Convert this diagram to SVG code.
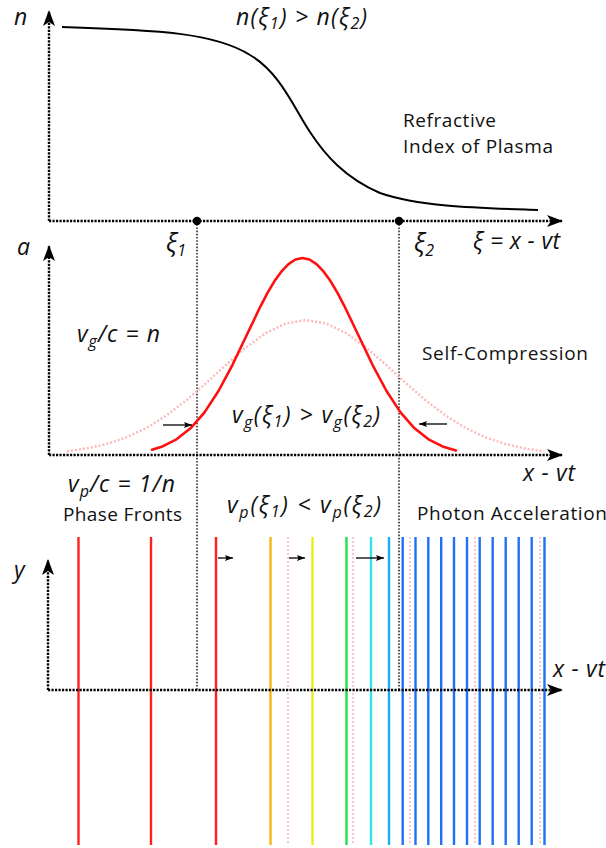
<svg xmlns="http://www.w3.org/2000/svg" width="606" height="848" viewBox="0 0 606 848">
<style>
.ax{stroke:#000;stroke-width:2.4;stroke-dasharray:2.2 1.3;fill:none}
.gd{stroke:#000;stroke-width:1.3;stroke-dasharray:1.6 1.6;fill:none}
.sa{stroke:#000;stroke-width:1.3;fill:none}
.t{font-family:"Open Sans","Noto Sans",sans-serif;font-size:19px;fill:#111}
.m{font-family:"Open Sans","Noto Sans",sans-serif;font-style:italic;font-size:23px;fill:#111}
.x{font-size:25px}
.s{font-size:16px}
.pf{stroke-width:2.4;fill:none}
.pk{stroke:#ffb8b8;stroke-width:1.6;stroke-dasharray:2 2;fill:none}
</style>
<defs>
<marker id="ah" viewBox="0 0 16 12" refX="15" refY="6" markerWidth="16" markerHeight="12" markerUnits="userSpaceOnUse" orient="auto"><path d="M0,0 L16,6 L0,12 L4,6 Z" fill="#000"/></marker>
<marker id="sh" viewBox="0 0 8 6" refX="8" refY="3" markerWidth="8" markerHeight="6" markerUnits="userSpaceOnUse" orient="auto"><path d="M0,0 L8,3 L0,6 L1.5,3 Z" fill="#000"/></marker>
</defs>
<rect width="606" height="848" fill="#fff"/>

<g id="phase-fronts">
<g class="pk">
<line x1="288" y1="537" x2="288" y2="845"/>
<line x1="353" y1="537" x2="353" y2="845"/>
<line x1="410" y1="537" x2="410" y2="845"/>
<line x1="475" y1="537" x2="475" y2="845"/>
<line x1="540" y1="537" x2="540" y2="845"/>
</g>
<g class="pf">
<line x1="78.5" y1="537" x2="78.5" y2="845" stroke="#ff1f1f"/>
<line x1="151" y1="537" x2="151" y2="845" stroke="#ff1f1f"/>
<line x1="216" y1="537" x2="216" y2="845" stroke="#ff1f1f"/>
<line x1="270.5" y1="537" x2="270.5" y2="845" stroke="#f6b80c"/>
<line x1="312.5" y1="537" x2="312.5" y2="845" stroke="#e4ef22"/>
<line x1="346.5" y1="537" x2="346.5" y2="845" stroke="#22e04a"/>
<line x1="371" y1="537" x2="371" y2="845" stroke="#33e2f0"/>
<line x1="389" y1="537" x2="389" y2="845" stroke="#18b0f5"/>
<g stroke="#1f70f2">
<line x1="402.7" y1="537" x2="402.7" y2="845"/>
<line x1="415.5" y1="537" x2="415.5" y2="845"/>
<line x1="428.3" y1="537" x2="428.3" y2="845"/>
<line x1="441.2" y1="537" x2="441.2" y2="845"/>
<line x1="454" y1="537" x2="454" y2="845"/>
<line x1="467" y1="537" x2="467" y2="845"/>
<line x1="479.7" y1="537" x2="479.7" y2="845"/>
<line x1="492.7" y1="537" x2="492.7" y2="845"/>
<line x1="505.7" y1="537" x2="505.7" y2="845"/>
<line x1="518.7" y1="537" x2="518.7" y2="845"/>
<line x1="531.7" y1="537" x2="531.7" y2="845"/>
<line x1="544.5" y1="537" x2="544.5" y2="845"/>
</g>
</g>
</g>

<g id="guides">
<line class="gd" x1="197" y1="221" x2="197" y2="690"/>
<line class="gd" x1="399" y1="221" x2="399" y2="690"/>
</g>

<g id="axes">
<path class="ax" d="M49,221 V11" marker-end="url(#ah)"/>
<path class="ax" d="M49,221 H562" marker-end="url(#ah)"/>
<path class="ax" d="M49,455 V246" marker-end="url(#ah)"/>
<path class="ax" d="M49,455 H562" marker-end="url(#ah)"/>
<path class="ax" d="M48,690 V560" marker-end="url(#ah)"/>
<path class="ax" d="M48,690 H562" marker-end="url(#ah)"/>
<circle cx="197" cy="221" r="4.2" fill="#000"/>
<circle cx="399" cy="221" r="4.2" fill="#000"/>
</g>

<g id="index-curve">
<path d="M62,27 C160,30 215,33 250,55 C280,72 295,110 310,132 C325,155 345,178 380,193 C420,207 480,208 538,210" fill="none" stroke="#000" stroke-width="2"/>
</g>

<g id="pulse">
<polyline points="67,451.2 86,448.6 106,444.2 126,437.5 146,428.2 166,415.8 186,400.6 206,383.2 226,364.9 246,347.4 266,333 286,323.4 306,320 326,323.4 346,333 366,347.4 386,364.9 406,383.2 426,400.6 446,415.8 466,428.2 486,437.5 506,444.2 526,448.6 544,451.2" fill="none" stroke="#ffb8b8" stroke-width="2.4" stroke-dasharray="2 2" stroke-linejoin="round"/>
<polyline points="152,449.7 162.5,446.4 176.5,439.3 190.5,428.3 204.5,412.4 218.5,391 232.5,364.8 246.5,335.5 260.5,306.3 267.5,292.9 274.5,281.1 281.5,271.4 288.5,264.1 295.5,259.5 302.5,258 309.5,259.5 316.5,264.1 323.5,271.4 330.5,281.1 337.5,292.9 344.5,306.3 358.5,335.5 372.5,364.8 386.5,391 400.5,412.4 414.5,428.3 428.5,439.3 442.5,446.4 456,450.4" fill="none" stroke="#ff1010" stroke-width="2.6" stroke-linejoin="round" stroke-linecap="round"/>
</g>

<g id="small-arrows">
<line class="sa" x1="163" y1="425" x2="192" y2="425" marker-end="url(#sh)"/>
<line class="sa" x1="447" y1="424" x2="419" y2="424" marker-end="url(#sh)"/>
<line class="sa" x1="218" y1="558" x2="233" y2="558" marker-end="url(#sh)"/>
<line class="sa" x1="289" y1="558" x2="305" y2="558" marker-end="url(#sh)"/>
<line class="sa" x1="356" y1="558" x2="384" y2="558" marker-end="url(#sh)"/>
</g>

<g id="labels">
<text class="m" x="14" y="25">n</text>
<text class="m" x="17" y="255">a</text>
<text class="m" x="14" y="578">y</text>
<text class="m" x="236" y="25" textLength="131">n(ξ<tspan class="s" dy="4">1</tspan><tspan dy="-4">) &gt; n(ξ</tspan><tspan class="s" dy="4">2</tspan><tspan dy="-4">)</tspan></text>
<text class="t" x="403" y="127" textLength="93">Refractive</text>
<text class="t" x="403" y="152.5" textLength="150">Index of Plasma</text>
<text class="m x" x="166" y="252">ξ<tspan class="s" dy="4">1</tspan></text>
<text class="m x" x="414" y="252">ξ<tspan class="s" dy="4">2</tspan></text>
<text class="m" x="473" y="249" textLength="87">ξ = x - vt</text>
<text class="m" x="77" y="342" textLength="83">v<tspan class="s" dy="5">g</tspan><tspan dy="-5">/c = n</tspan></text>
<text class="t" x="422" y="360" textLength="166">Self-Compression</text>
<text class="m" x="232" y="423" textLength="148">v<tspan class="s" dy="5">g</tspan><tspan dy="-5">(ξ</tspan><tspan class="s" dy="4">1</tspan><tspan dy="-4">) &gt; v</tspan><tspan class="s" dy="5">g</tspan><tspan dy="-5">(ξ</tspan><tspan class="s" dy="4">2</tspan><tspan dy="-4">)</tspan></text>
<text class="m" x="523" y="481" textLength="52">x - vt</text>
<text class="m" x="68" y="492" textLength="107">v<tspan class="s" dy="5">p</tspan><tspan dy="-5">/c = 1/n</tspan></text>
<text class="t" x="63" y="521" textLength="119">Phase Fronts</text>
<text class="m" x="227" y="513" textLength="154">v<tspan class="s" dy="5">p</tspan><tspan dy="-5">(ξ</tspan><tspan class="s" dy="4">1</tspan><tspan dy="-4">) &lt; v</tspan><tspan class="s" dy="5">p</tspan><tspan dy="-5">(ξ</tspan><tspan class="s" dy="4">2</tspan><tspan dy="-4">)</tspan></text>
<text class="t" x="417" y="520" textLength="190">Photon Acceleration</text>
<text class="m" x="553" y="677" textLength="52">x - vt</text>
</g>
</svg>
